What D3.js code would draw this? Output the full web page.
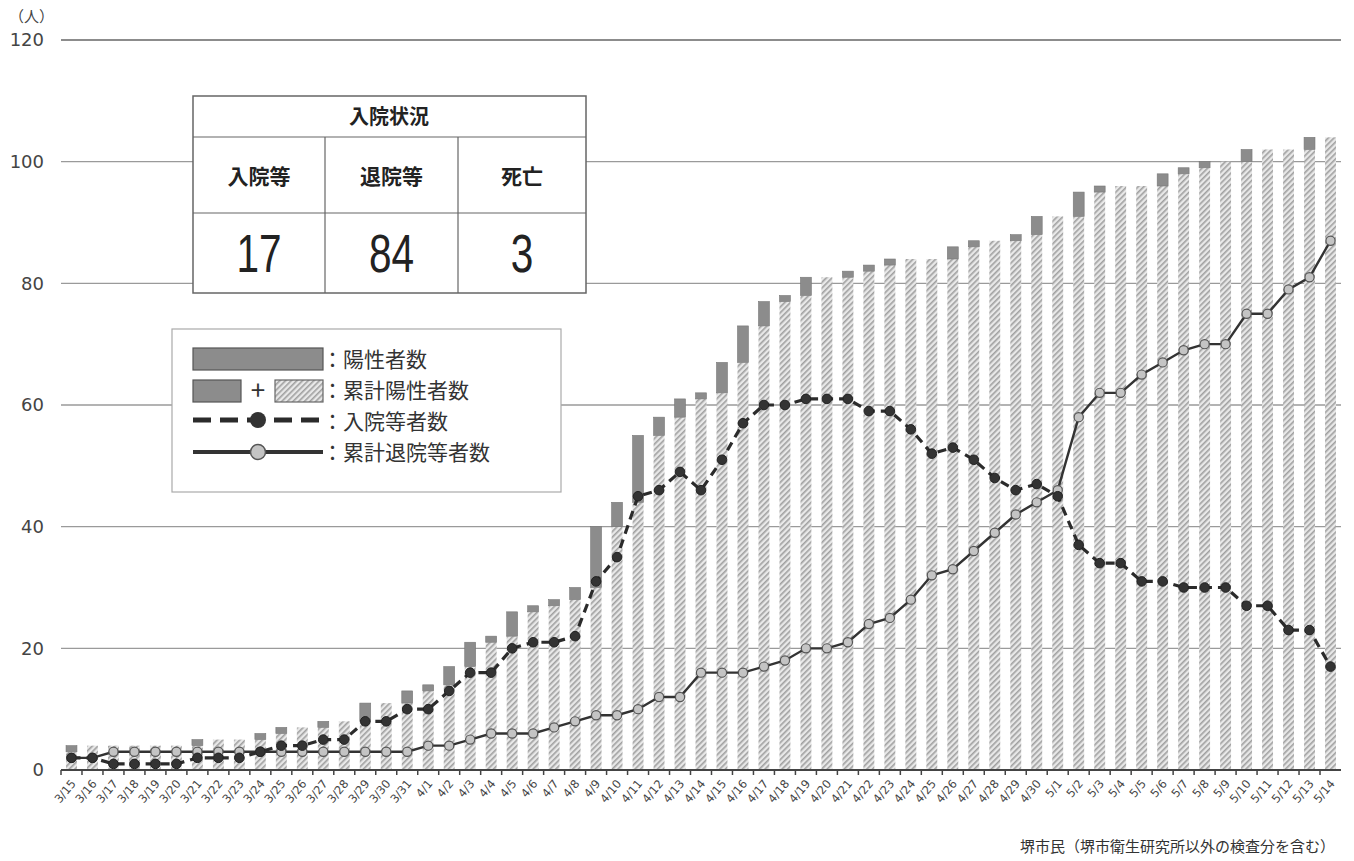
<!DOCTYPE html>
<html>
<head>
<meta charset="utf-8">
<script src="https://cdn.jsdelivr.net/npm/d3@7"></script>
<style>
  body { margin: 0; background: #fff; }
  svg { display: block; font-family: "Noto Sans CJK JP", "Noto Sans", sans-serif; }
</style>
</head>
<body>
<svg id="chart" width="1354" height="861"></svg>
<script>
// dates 3/15 .. 5/14
var dates = ["3/15","3/16","3/17","3/18","3/19","3/20","3/21","3/22","3/23","3/24","3/25","3/26","3/27","3/28","3/29","3/30","3/31",
  "4/1","4/2","4/3","4/4","4/5","4/6","4/7","4/8","4/9","4/10","4/11","4/12","4/13","4/14","4/15","4/16","4/17","4/18","4/19","4/20",
  "4/21","4/22","4/23","4/24","4/25","4/26","4/27","4/28","4/29","4/30",
  "5/1","5/2","5/3","5/4","5/5","5/6","5/7","5/8","5/9","5/10","5/11","5/12","5/13","5/14"];

// 累計陽性者数
var cumulative = [4,4,4,4,4,4,5,5,5,6,7,7,8,8,11,11,13,
  14,17,21,22,26,27,28,30,40,44,55,58,61,62,67,73,77,78,81,81,82,83,84,84,84,86,87,87,88,91,
  91,95,96,96,96,98,99,100,100,102,102,102,104,104];

// 陽性者数 (new that day)
var newCases = [1,0,0,0,0,0,1,0,0,1,1,0,1,0,3,0,2,
  1,3,4,1,4,1,1,2,10,4,11,3,3,1,5,6,4,1,3,0,1,1,1,0,0,2,1,0,1,3,
  0,4,1,0,0,2,1,1,0,2,0,0,2,0];

// 入院等者数
var hospitalized = [2,2,1,1,1,1,2,2,2,3,4,4,5,5,8,8,10,
  10,13,16,16,20,21,21,22,31,35,45,46,49,46,51,57,60,60,61,61,61,59,59,56,52,53,51,48,46,47,
  45,37,34,34,31,31,30,30,30,27,27,23,23,17];

// 累計退院等者数
var discharged = [2,2,3,3,3,3,3,3,3,3,3,3,3,3,3,3,3,
  4,4,5,6,6,6,7,8,9,9,10,12,12,16,16,16,17,18,20,20,21,24,25,28,32,33,36,39,42,44,
  46,58,62,62,65,67,69,70,70,75,75,79,81,87];

var yTicks = [0, 20, 40, 60, 80, 100, 120];
var tableHeaders = ["入院等", "退院等", "死亡"];
var tableValues = ["17", "84", "3"];

var svg = d3.select("#chart");
var margin = {left: 61, right: 13, top: 40, bottom: 91};
var width = +svg.attr("width"), height = +svg.attr("height");

var x = d3.scaleBand().domain(dates).range([margin.left, width - margin.right]).paddingInner(0.48).paddingOuter(0.24);
var y = d3.scaleLinear().domain([0, 120]).range([height - margin.bottom, margin.top]);

// hatch pattern for cumulative part
var defs = svg.append("defs");
var pat = defs.append("pattern")
    .attr("id", "hatch")
    .attr("patternUnits", "userSpaceOnUse")
    .attr("width", 4).attr("height", 4)
    .attr("patternTransform", "rotate(45)");
pat.append("rect").attr("width", 4).attr("height", 4).attr("fill", "#e8e8e8");
pat.append("rect").attr("width", 1.6).attr("height", 4).attr("fill", "#a0a0a0");

// gridlines
svg.append("g")
    .selectAll("line")
    .data(yTicks.filter(function (d) { return d > 0; }))
    .enter().append("line")
    .attr("x1", margin.left).attr("x2", width - margin.right)
    .attr("y1", function (d) { return y(d); })
    .attr("y2", function (d) { return y(d); })
    .attr("stroke", function (d) { return d == 120 ? "#666" : "#9a9a9a"; })
    .attr("stroke-width", 1.3);

// y labels
svg.append("g")
    .selectAll("text")
    .data(yTicks)
    .enter().append("text")
    .attr("x", 44)
    .attr("y", function (d) { return y(d); })
    .attr("dy", "0.36em")
    .attr("text-anchor", "end")
    .attr("fill", "#444")
    .style("font-family", "'DejaVu Sans', sans-serif")
    .style("font-size", "18px")
    .text(function (d) { return d; });

svg.append("text")
    .attr("x", 9).attr("y", 22)
    .attr("fill", "#444")
    .style("font-size", "15px")
    .text("（人）");

// bars: cumulative before today (hatched) + new (dark)
var bars = svg.append("g");
bars.selectAll("rect.base")
    .data(dates)
    .enter().append("rect")
    .attr("class", "base")
    .attr("x", function (d) { return x(d); })
    .attr("width", x.bandwidth())
    .attr("y", function (d, i) { return y(cumulative[i] - newCases[i]); })
    .attr("height", function (d, i) { return y(0) - y(cumulative[i] - newCases[i]); })
    .attr("fill", "url(#hatch)");

bars.selectAll("rect.new")
    .data(dates)
    .enter().append("rect")
    .attr("class", "new")
    .attr("x", function (d) { return x(d); })
    .attr("width", x.bandwidth())
    .attr("y", function (d, i) { return y(cumulative[i]); })
    .attr("height", function (d, i) { return y(0) - y(newCases[i]); })
    .attr("fill", "#8c8c8c")
    .attr("stroke", "#777")
    .attr("stroke-width", 0.6)
    .style("display", function (d, i) { return newCases[i] > 0 ? null : "none"; });

// x axis
var xAxis = svg.append("g")
    .attr("transform", "translate(0," + y(0) + ")");
xAxis.append("line")
    .attr("x1", margin.left).attr("x2", width - margin.right)
    .attr("stroke", "#444").attr("stroke-width", 2);
xAxis.selectAll("line.tick")
    .data(dates)
    .enter().append("line")
    .attr("class", "tick")
    .attr("x1", function (d) { return x(d) - x.step() * 0.24; })
    .attr("x2", function (d) { return x(d) - x.step() * 0.24; })
    .attr("y1", 0).attr("y2", 5)
    .attr("stroke", "#444").attr("stroke-width", 1.5);
xAxis.selectAll("text")
    .data(dates)
    .enter().append("text")
    .attr("transform", function (d) {
        return "translate(" + (x(d) + x.bandwidth() / 2 + 5) + ",14) rotate(-50)";
    })
    .attr("text-anchor", "end")
    .attr("fill", "#444")
    .style("font-family", "'DejaVu Sans', sans-serif")
    .style("font-size", "11.5px")
    .text(function (d) { return d; });

var cx = function (d, i) { return x(dates[i]) + x.bandwidth() / 2; };

// discharged line (solid)
var lineDis = d3.line()
    .x(function (d, i) { return cx(d, i); })
    .y(function (d) { return y(d); });
svg.append("path")
    .datum(discharged)
    .attr("d", lineDis)
    .attr("fill", "none")
    .attr("stroke", "#333")
    .attr("stroke-width", 2.4);

// hospitalized line (dashed)
svg.append("path")
    .datum(hospitalized)
    .attr("d", lineDis)
    .attr("fill", "none")
    .attr("stroke", "#2b2b2b")
    .attr("stroke-width", 3.2)
    .attr("stroke-dasharray", "9,6");

svg.append("g")
    .selectAll("circle")
    .data(discharged)
    .enter().append("circle")
    .attr("cx", cx)
    .attr("cy", function (d) { return y(d); })
    .attr("r", 4.6)
    .attr("fill", "#c4c4c4")
    .attr("stroke", "#555")
    .attr("stroke-width", 1.2);

svg.append("g")
    .selectAll("circle")
    .data(hospitalized)
    .enter().append("circle")
    .attr("cx", cx)
    .attr("cy", function (d) { return y(d); })
    .attr("r", 4.8)
    .attr("fill", "#333")
    .attr("stroke", "#222")
    .attr("stroke-width", 1);

// table 入院状況
var tbl = svg.append("g").attr("transform", "translate(193,96)");
var colW = [132, 133, 128];
var colX = [0, 132, 265];
tbl.append("rect").attr("width", 393).attr("height", 197)
    .attr("fill", "#fff").attr("stroke", "#666").attr("stroke-width", 1.5);
tbl.append("line").attr("x1", 0).attr("x2", 393).attr("y1", 41).attr("y2", 41).attr("stroke", "#666").attr("stroke-width", 1.2);
tbl.append("line").attr("x1", 0).attr("x2", 393).attr("y1", 117).attr("y2", 117).attr("stroke", "#666").attr("stroke-width", 1.2);
tbl.selectAll("line.col")
    .data([132, 265])
    .enter().append("line")
    .attr("class", "col")
    .attr("x1", function (d) { return d; }).attr("x2", function (d) { return d; })
    .attr("y1", 41).attr("y2", 197)
    .attr("stroke", "#666").attr("stroke-width", 1.2);
tbl.append("text")
    .attr("x", 196).attr("y", 28)
    .attr("text-anchor", "middle")
    .style("font-size", "20px").style("font-weight", "bold")
    .attr("fill", "#222")
    .text("入院状況");
tbl.selectAll("text.hd")
    .data(tableHeaders)
    .enter().append("text")
    .attr("class", "hd")
    .attr("x", function (d, i) { return colX[i] + colW[i] / 2; })
    .attr("y", 88)
    .attr("text-anchor", "middle")
    .style("font-size", "21px").style("font-weight", "bold")
    .attr("fill", "#222")
    .text(function (d) { return d; });
tbl.selectAll("text.val")
    .data(tableValues)
    .enter().append("text")
    .attr("class", "val")
    .attr("transform", function (d, i) {
        return "translate(" + (colX[i] + colW[i] / 2) + ",176) scale(0.78,1.05)";
    })
    .attr("text-anchor", "middle")
    .style("font-family", "'Liberation Sans', sans-serif")
    .style("font-size", "52px")
    .attr("fill", "#222")
    .text(function (d) { return d; });

// legend
var lg = svg.append("g").attr("transform", "translate(172,329)");
lg.append("rect").attr("width", 389).attr("height", 163)
    .attr("fill", "#fff").attr("stroke", "#aaa").attr("stroke-width", 1.2);
lg.append("rect").attr("x", 21).attr("y", 19).attr("width", 130).attr("height", 22)
    .attr("fill", "#8c8c8c").attr("stroke", "#555").attr("stroke-width", 1.2);
lg.append("rect").attr("x", 21).attr("y", 51).attr("width", 48).attr("height", 22)
    .attr("fill", "#8c8c8c").attr("stroke", "#555").attr("stroke-width", 1.2);
lg.append("text").attr("x", 86).attr("y", 71).attr("text-anchor", "middle")
    .style("font-size", "26px").attr("fill", "#333").text("+");
lg.append("rect").attr("x", 103).attr("y", 51).attr("width", 48).attr("height", 22)
    .attr("fill", "url(#hatch)").attr("stroke", "#666").attr("stroke-width", 1.2);
lg.append("line").attr("x1", 21).attr("x2", 151).attr("y1", 91).attr("y2", 91)
    .attr("stroke", "#2b2b2b").attr("stroke-width", 5).attr("stroke-dasharray", "18,9");
lg.append("circle").attr("cx", 86).attr("cy", 91).attr("r", 8).attr("fill", "#333");
lg.append("line").attr("x1", 21).attr("x2", 151).attr("y1", 123).attr("y2", 123)
    .attr("stroke", "#333").attr("stroke-width", 4);
lg.append("circle").attr("cx", 86).attr("cy", 123).attr("r", 7.5)
    .attr("fill", "#c4c4c4").attr("stroke", "#555").attr("stroke-width", 1.5);
var legendLabels = ["：陽性者数", "：累計陽性者数", "：入院等者数", "：累計退院等者数"];
lg.selectAll("text.lab")
    .data(legendLabels)
    .enter().append("text")
    .attr("class", "lab")
    .attr("x", 150)
    .attr("y", function (d, i) { return 38 + i * 31; })
    .style("font-size", "21px")
    .attr("fill", "#333")
    .text(function (d) { return d; });

// footnote
svg.append("text")
    .attr("x", 1335).attr("y", 852)
    .attr("text-anchor", "end")
    .style("font-size", "15px")
    .attr("fill", "#333")
    .text("堺市民（堺市衛生研究所以外の検査分を含む）");
</script>
</body>
</html>
